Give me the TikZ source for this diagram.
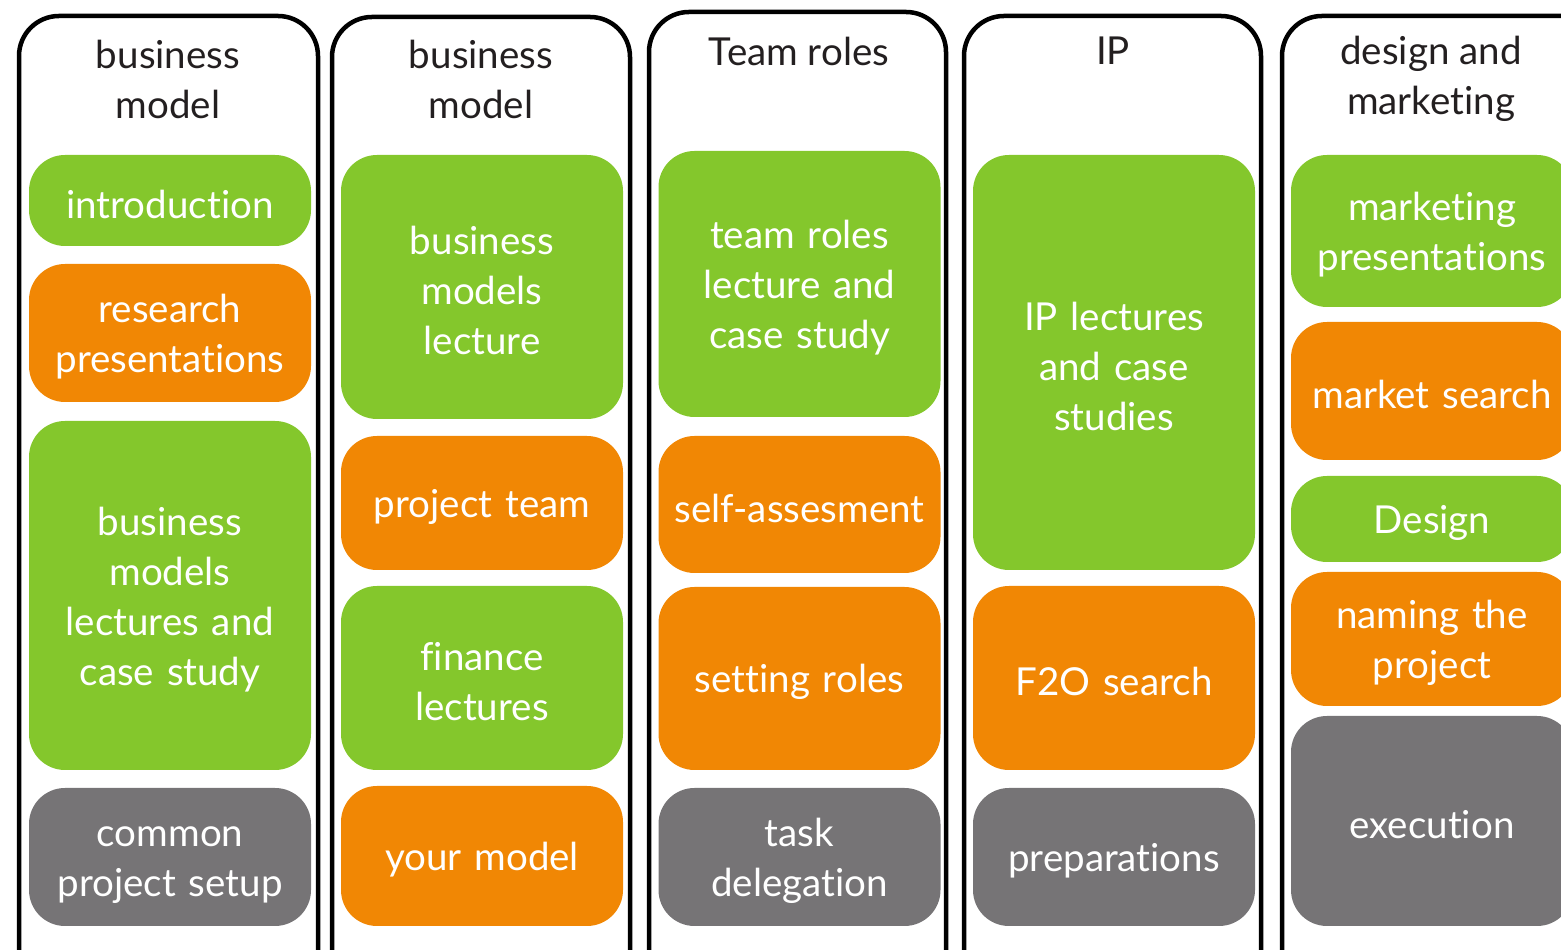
\documentclass[tikz,border=0pt]{standalone}
\usepackage{fontspec}
\setmainfont{Lato}[Ligatures=CommonOff]
\definecolor{bgreen}{RGB}{132,199,44}
\definecolor{borange}{RGB}{241,135,4}
\definecolor{bgray}{RGB}{118,116,118}
\definecolor{hdark}{RGB}{35,31,32}
\tikzset{
  colframe/.style={draw=black, line width=4.5pt, rounded corners=40pt, outer sep=0pt, inner sep=0pt, anchor=north west},
  task/.style={rounded corners=36pt, inner sep=0pt, outer sep=0pt, text=white, align=center, text width=280pt, minimum width=282pt, font=\fontsize{38.5}{50}\selectfont, execute at begin node={\rule{0pt}{36pt}}},
  head/.style={text=hdark, align=center, inner sep=0pt, font=\fontsize{38.5}{50}\selectfont},
}
\begin{document}
\begin{tikzpicture}[x=1pt,y=1pt]
\useasboundingbox (0,0) rectangle (1561,950);
\clip (0,0) rectangle (1561,950);
% column frames
\node[colframe, minimum width=299pt, minimum height=1000pt] (c1) at (19,934) {};
\node[colframe, minimum width=298pt, minimum height=1000pt] (c2) at (332,933) {};
\node[colframe, minimum width=297pt, minimum height=1000pt] (c3) at (649,938) {};
\node[colframe, minimum width=297pt, minimum height=1000pt] (c4) at (964,934) {};
\node[colframe, minimum width=330pt, minimum height=1000pt] (c5) at (1282,934) {};
% headers
\node[head] (h1) at (168,871) {business\\model};
\node[head] (h2) at (481,871) {business\\model};
\node[head] (h3) at (799,899) {Team roles};
\node[head] (h4) at (1113,899) {IP};
\node[head] (h5) at (1431,871) {design and\\marketing};
% column 1
\node[task, fill=bgreen, minimum height=91pt] (a1) at (170,749.5) {introduction};
\node[task, fill=borange, minimum height=138pt] (a2) at (170,617) {research\\presentations};
\node[task, fill=bgreen, minimum height=349pt] (a3) at (170,354.5) {business\\models\\lectures and\\case study};
\node[task, fill=bgray, minimum height=138pt] (a4) at (170,93) {common\\project setup};
% column 2
\node[task, fill=bgreen, minimum height=264pt] (b1) at (482,663) {business\\models\\lecture};
\node[task, fill=borange, minimum height=134pt] (b2) at (482,447) {project team};
\node[task, fill=bgreen, minimum height=184pt] (b3) at (482,272) {finance\\lectures};
\node[task, fill=borange, minimum height=140pt] (b4) at (482,94) {your model};
% column 3
\node[task, fill=bgreen, minimum height=266pt] (d1) at (799.5,666) {team roles\\lecture and\\case study};
\node[task, fill=borange, minimum height=137pt] (d2) at (799.5,445.5) {self-assesment};
\node[task, fill=borange, minimum height=183pt] (d3) at (799.5,271.5) {setting roles};
\node[task, fill=bgray, minimum height=138pt] (d4) at (799.5,93) {task\\delegation};
% column 4
\node[task, fill=bgreen, minimum height=415pt] (e1) at (1114,587.5) {IP lectures\\and case\\studies};
\node[task, fill=borange, minimum height=184pt] (e2) at (1114,272) {F2O search};
\node[task, fill=bgray, minimum height=138pt] (e3) at (1114,93) {preparations};
% column 5
\node[task, fill=bgreen, minimum height=152pt] (f1) at (1432,719) {marketing\\presentations};
\node[task, fill=borange, minimum height=138pt] (f2) at (1432,559) {market search};
\node[task, fill=bgreen, minimum height=86pt] (f3) at (1432,431) {Design};
\node[task, fill=borange, minimum height=134pt] (f4) at (1432,311) {naming the\\project};
\node[task, fill=bgray, minimum height=210pt] (f5) at (1432,129) {execution};
\end{tikzpicture}
\end{document}
